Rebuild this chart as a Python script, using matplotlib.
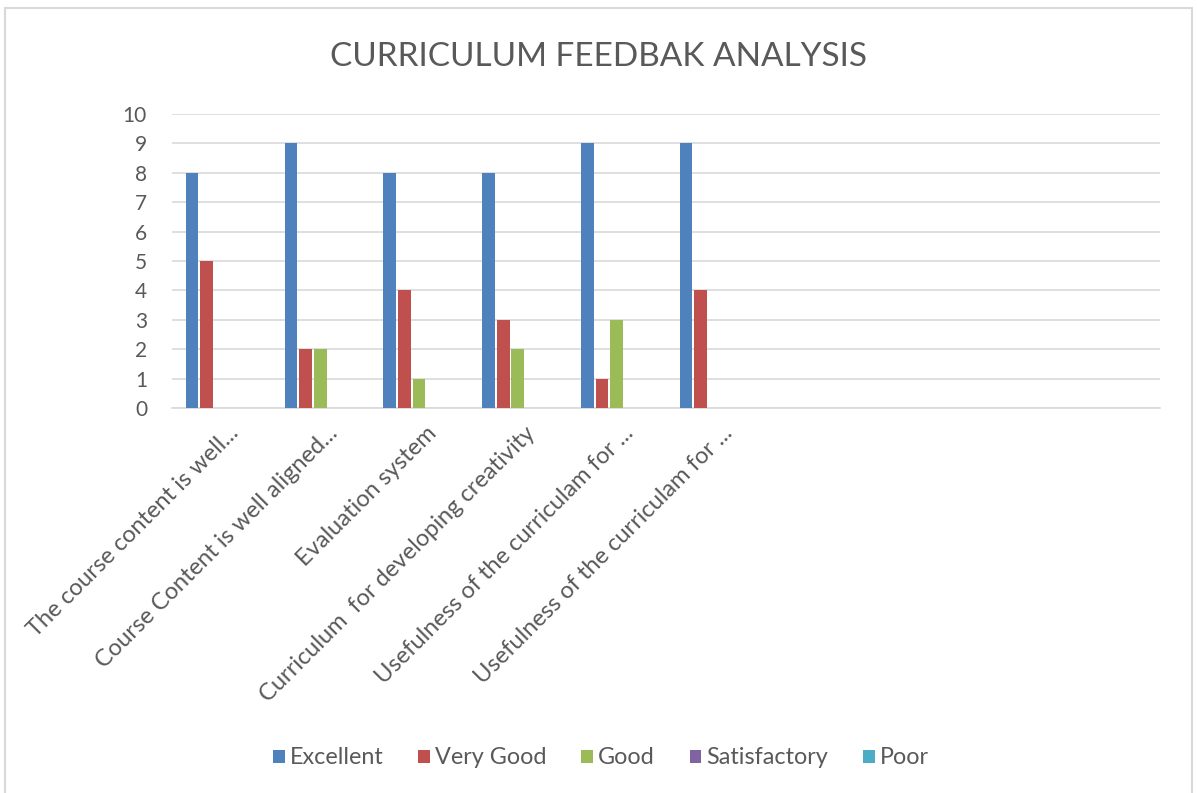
import matplotlib
matplotlib.use("Agg")
import matplotlib.pyplot as plt
import matplotlib.transforms as mtransforms
from matplotlib.patches import Rectangle
import numpy as np

plt.rcParams['font.family'] = ['Lato', 'DejaVu Sans']

# data
categories = ["The course content is well...",
              "Course Content is well aligned...",
              "Evaluation system",
              "Curriculum  for developing creativity",
              "Usefulness of the curriculam for ...",
              "Usefulness of the curriculam for ...",
              "", "", "", ""]
series = ["Excellent", "Very Good", "Good", "Satisfactory", "Poor"]
excellent = [8, 9, 8, 8, 9, 9, 0, 0, 0, 0]
very_good = [5, 2, 4, 3, 1, 4, 0, 0, 0, 0]
good = [0, 2, 1, 2, 3, 0, 0, 0, 0, 0]
satisfactory = [0, 0, 0, 0, 0, 0, 0, 0, 0, 0]
poor = [0, 0, 0, 0, 0, 0, 0, 0, 0, 0]
yticks = list(range(0, 11))

colors = ["#4F81BD", "#C0504D", "#9BBB59", "#8064A2", "#4BACC6"]
txt = "#595959"

fig = plt.figure(figsize=(11.97, 7.93), dpi=100)
ax = fig.add_axes([172/1197, 1-408/793, (1160-172)/1197, (408-114)/793])

# chart border
fig.patches.append(Rectangle((5/1197, -0.05), (1192-5)/1197, 1.05 - 8/793,
                             transform=fig.transFigure, fill=False,
                             edgecolor="#D9D9D9", lw=1.5))

x = np.arange(len(categories))
pitch = 0.148
width = 0.128
for j, (name, vals) in enumerate(zip(series, [excellent, very_good, good, satisfactory, poor])):
    ax.bar(x + (j-2)*pitch, vals, width, color=colors[j], label=name, linewidth=0, zorder=3)

ax.set_xlim(-0.5, len(categories)-0.5)
ax.set_ylim(0, 10)
ax.set_yticks(yticks)
ax.yaxis.grid(True, color="#D9D9D9", lw=1.2, zorder=0)
for s in ["left", "right", "top"]:
    ax.spines[s].set_visible(False)
ax.spines["bottom"].set_color("#D9D9D9")
ax.spines["bottom"].set_linewidth(1.2)
ax.tick_params(axis="y", length=0, pad=18, labelsize=15, labelcolor=txt)
ax.tick_params(axis="x", length=0, pad=0, labelsize=17, labelcolor=txt)

ax.set_xticks(x)
ax.set_xticklabels(categories, rotation=45, ha="right", va="center", rotation_mode="anchor")
off = mtransforms.ScaledTranslation(14/100, -22/100, fig.dpi_scale_trans)
for lab in ax.get_xticklabels():
    lab.set_transform(lab.get_transform() + off)

fig.text(0.5, 1-57/793, "CURRICULUM FEEDBAK ANALYSIS", ha="center", va="center",
         fontsize=24, color=txt)

fig.legend(loc="center", bbox_to_anchor=(0.502, 1-758/793), ncol=5, frameon=False,
           fontsize=16.8, handlelength=0.5, handleheight=0.5, handletextpad=0.21,
           columnspacing=1.5, labelcolor=txt)

fig.savefig("out.png", dpi=100)
